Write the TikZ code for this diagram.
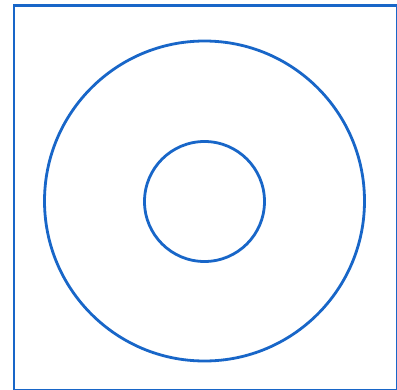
\documentclass[tikz,border=0pt]{standalone}
\definecolor{ringblue}{RGB}{24,102,200}
\begin{document}
\begin{tikzpicture}[x=1pt,y=-1pt,ring/.style={draw=ringblue,line width=2.8pt}]
\useasboundingbox (0,0) rectangle (397,389);
\fill[white] (0,0) rectangle (397,389);
\draw[ring] (14,5.5) rectangle (397.6,390.2);
\node[ring,circle,minimum size=320pt,inner sep=0pt] (outer) at (204.5,201) {};
\node[ring,circle,minimum size=120pt,inner sep=0pt] (inner) at (204.5,201.5) {};
\end{tikzpicture}
\end{document}
